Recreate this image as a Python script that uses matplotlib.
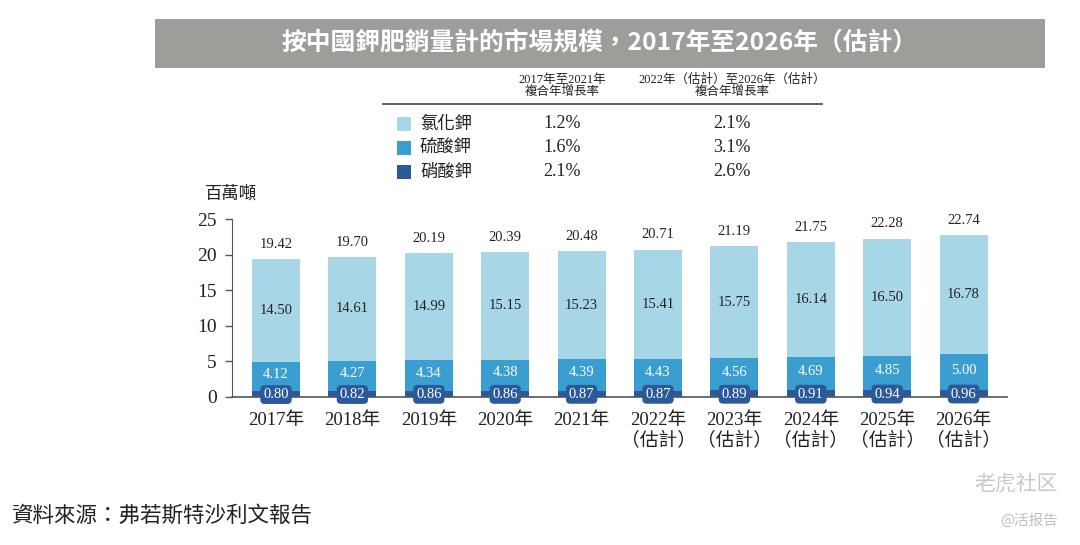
import matplotlib
matplotlib.use("Agg")
import matplotlib.pyplot as plt
from matplotlib.patches import Rectangle

# ── Data ───────────────────────────────────────────────────────────────
years = ["2017年", "2018年", "2019年", "2020年", "2021年",
         "2022年\n（估計）", "2023年\n（估計）", "2024年\n（估計）",
         "2025年\n（估計）", "2026年\n（估計）"]
nitrate = [0.80, 0.82, 0.86, 0.86, 0.87, 0.87, 0.89, 0.91, 0.94, 0.96]
sulfate = [4.12, 4.27, 4.34, 4.38, 4.39, 4.43, 4.56, 4.69, 4.85, 5.00]
chloride = [14.50, 14.61, 14.99, 15.15, 15.23, 15.41, 15.75, 16.14, 16.50, 16.78]
totals = [19.42, 19.70, 20.19, 20.39, 20.48, 20.71, 21.19, 21.75, 22.28, 22.74]

series_names = ["氯化鉀", "硫酸鉀", "硝酸鉀"]
cagr_hist = ["1.2%", "1.6%", "2.1%"]
cagr_fcst = ["2.1%", "3.1%", "2.6%"]

C_LIGHT = "#a7d7e6"
C_MID = "#3a9fd0"
C_DARK = "#2b5a9c"
series_colors = [C_LIGHT, C_MID, C_DARK]

SERIF = ["Liberation Serif", "Noto Sans CJK TC"]
CJK = ["Noto Sans CJK TC", "DejaVu Sans"]

W, H = 1080, 545
fig = plt.figure(figsize=(W / 100, H / 100), dpi=100)


def fx(px):
    return px / W


def fy(py):
    return 1 - py / H


# ── Title banner ───────────────────────────────────────────────────────
fig.patches.append(Rectangle((fx(155), fy(68)), fx(890), 49 / H,
                             transform=fig.transFigure, facecolor="#9e9d99",
                             edgecolor="none"))
fig.text(fx(600), fy(43), "按中國鉀肥銷量計的市場規模，2017年至2026年（估計）",
         ha="center", va="center", color="white", fontsize=17.8,
         fontweight="bold", family=CJK)

# ── CAGR table ─────────────────────────────────────────────────────────
fig.text(fx(562), fy(86), "2017年至2021年\n複合年增長率", ha="center", va="center",
         fontsize=9, family=SERIF, linespacing=1.0, color="#222222")
fig.text(fx(732), fy(86), "2022年（估計）至2026年（估計）\n複合年增長率", ha="center",
         va="center", fontsize=9, family=SERIF, linespacing=1.0, color="#222222")
fig.add_artist(plt.Line2D([fx(383), fx(822)], [fy(104), fy(104)],
                          transform=fig.transFigure, color="#444444", lw=1.2))
row_y = [124, 148, 172]
for name, c, h, f, yy in zip(series_names, series_colors, cagr_hist, cagr_fcst, row_y):
    fig.patches.append(Rectangle((fx(397), fy(yy + 7)), fx(14), 14 / H,
                                 transform=fig.transFigure, facecolor=c,
                                 edgecolor="none"))
    fig.text(fx(420), fy(yy), name, ha="left", va="center", fontsize=12.5,
             family=CJK, color="#222222")
    fig.text(fx(562), fy(yy), h, ha="center", va="center", fontsize=13,
             family=SERIF, color="#222222")
    fig.text(fx(732), fy(yy), f, ha="center", va="center", fontsize=13,
             family=SERIF, color="#222222")

# ── Bar chart ──────────────────────────────────────────────────────────
ax = fig.add_axes([fx(232), fy(396.7), fx(1007 - 232), (396.7 - 219.3) / H])
x = list(range(len(years)))
bw = 0.63
base2 = [a + b for a, b in zip(nitrate, sulfate)]
ax.bar(x, nitrate, bw, color=C_DARK, zorder=2)
ax.bar(x, sulfate, bw, bottom=nitrate, color=C_MID, zorder=2)
ax.bar(x, chloride, bw, bottom=base2, color=C_LIGHT, zorder=2)

LBL = 10.5
for i in x:
    ax.text(i, nitrate[i] / 2 - 0.1, f"{nitrate[i]:.2f}", ha="center", va="center",
            color="white", fontsize=LBL, family=SERIF, zorder=5,
            bbox=dict(boxstyle="round,pad=0.2,rounding_size=0.3",
                      facecolor=C_DARK, edgecolor="none"))
    ax.text(i, nitrate[i] + sulfate[i] / 2 + 0.3, f"{sulfate[i]:.2f}", ha="center",
            va="center", color="white", fontsize=LBL, family=SERIF, zorder=5)
    ax.text(i, base2[i] + chloride[i] / 2, f"{chloride[i]:.2f}", ha="center",
            va="center", color="#222222", fontsize=LBL, family=SERIF, zorder=5)
    ax.annotate(f"{totals[i]:.2f}", (i, totals[i]), xytext=(0, 6),
                textcoords="offset points", ha="center", va="bottom",
                fontsize=LBL, family=SERIF, color="#222222")

ax.set_xlim(-0.576, 9.568)
ax.set_ylim(0, 25)
ax.set_yticks([0, 5, 10, 15, 20, 25])
ax.set_xticks(x)
ax.set_xticklabels(years, family=SERIF, fontsize=13.5, linespacing=1.2)
for lbl in ax.get_yticklabels():
    lbl.set_family(SERIF)
    lbl.set_fontsize(14)
ax.tick_params(axis="x", length=0, pad=11, colors="#222222")
ax.tick_params(axis="y", length=5, width=1, direction="out", pad=6,
               colors="#222222", color="#555555")
for s in ["top", "right"]:
    ax.spines[s].set_visible(False)
ax.spines["left"].set_color("#555555")
ax.spines["bottom"].set_color("#555555")
ax.spines["bottom"].set_linewidth(1.2)
ax.spines["bottom"].set_zorder(4)

fig.text(fx(205), fy(194), "百萬噸", ha="left", va="center", fontsize=12.5,
         family=CJK, color="#222222")

# ── Footer ─────────────────────────────────────────────────────────────
fig.text(fx(12), fy(516), "資料來源：弗若斯特沙利文報告", ha="left", va="center",
         fontsize=15.5, family=CJK, style="italic", color="#222222")
fig.text(fx(1058), fy(484), "老虎社区", ha="right", va="center", fontsize=15,
         family=CJK, color="#c8c8c8")
fig.text(fx(1058), fy(521), "@活报告", ha="right", va="center", fontsize=10.5,
         family=CJK, color="#c0c0c0")

fig.savefig("out.png", dpi=100)
